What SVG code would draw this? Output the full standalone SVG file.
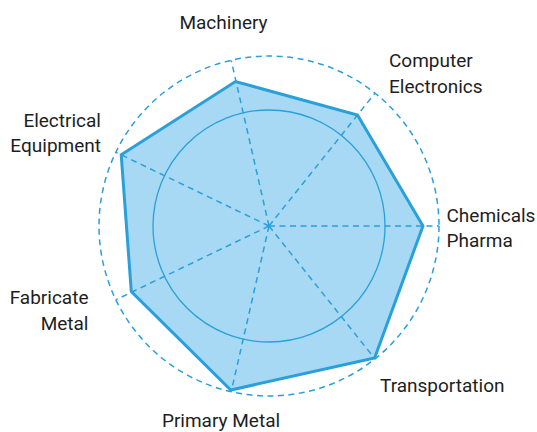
<svg xmlns="http://www.w3.org/2000/svg" width="537" height="432" viewBox="0 0 537 432">
<style>
.lbl{font-family:Roboto,"Liberation Sans",sans-serif;font-size:19px;fill:#1e1e1e}
.axis{stroke:#2aa0da;stroke-width:1.5;stroke-dasharray:6 4.5;fill:none}
.ring{stroke:#2aa0da;stroke-width:1.3;fill:none}
.area{fill:#a7d8f4;stroke:#2aa0da;stroke-width:3;stroke-linejoin:miter}
</style>
<rect width="537" height="432" fill="#ffffff"/>
<g id="data-area">
<polygon class="area" points="423,226 357.5,115 235.5,81.5 121.2,154.8 131.3,291.5 230.8,390 374.6,357.9"/>
</g>
<g id="grid">
<circle class="axis" cx="269" cy="226" r="170"/>
<circle class="ring" cx="269" cy="226" r="116"/>
</g>
<g id="connectors">
<line class="axis" x1="269" y1="226" x2="439" y2="226"/>
<line class="axis" x1="269" y1="226" x2="375" y2="93.1"/>
<line class="axis" x1="269" y1="226" x2="231.2" y2="60.3"/>
<line class="axis" x1="269" y1="226" x2="115.8" y2="152.2"/>
<line class="axis" x1="269" y1="226" x2="115.8" y2="299.8"/>
<line class="axis" x1="269" y1="226" x2="231.2" y2="391.7"/>
<line class="axis" x1="269" y1="226" x2="375" y2="358.9"/>
</g>
<g id="label-chemicals"><text class="lbl" x="446.5" y="222">Chemicals</text><text class="lbl" x="446.5" y="247">Pharma</text></g>
<g id="label-computer"><text class="lbl" x="389" y="67">Computer</text><text class="lbl" x="389" y="92.5">Electronics</text></g>
<g id="label-machinery"><text class="lbl" x="223.5" y="29" text-anchor="middle">Machinery</text></g>
<g id="label-electrical"><text class="lbl" x="101" y="127" text-anchor="end">Electrical</text><text class="lbl" x="101" y="152" text-anchor="end">Equipment</text></g>
<g id="label-fabricate"><text class="lbl" x="88.5" y="304" text-anchor="end">Fabricate</text><text class="lbl" x="88.5" y="330" text-anchor="end">Metal</text></g>
<g id="label-primary"><text class="lbl" x="221" y="426.5" text-anchor="middle">Primary Metal</text></g>
<g id="label-transportation"><text class="lbl" x="380" y="391.5">Transportation</text></g>
</svg>
